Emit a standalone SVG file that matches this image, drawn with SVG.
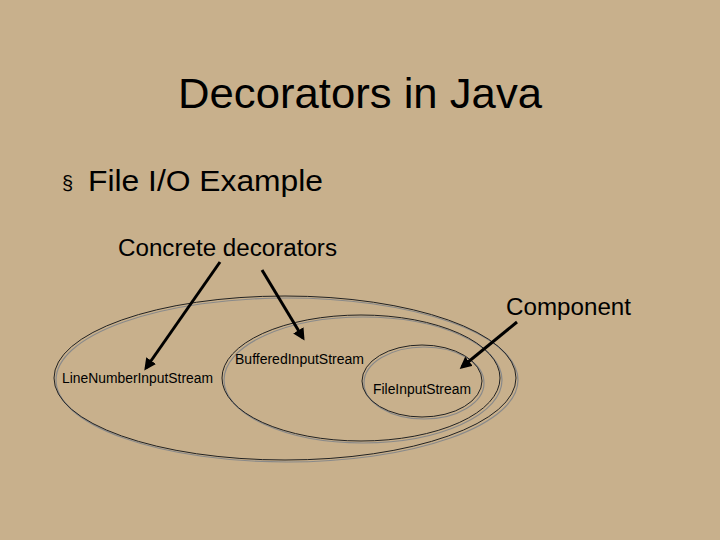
<svg xmlns="http://www.w3.org/2000/svg" width="720" height="540" viewBox="0 0 720 540">
<style>
text{font-family:"Liberation Sans",Arial,sans-serif;fill:#000}
.sh{fill:none;stroke:#8a8a8a;stroke-width:1.2}
.el{fill:none;stroke:#222;stroke-width:1}
.ar{stroke:#000;stroke-width:3;marker-end:url(#ah)}
</style>
<defs><marker id="ah" markerWidth="4" markerHeight="4" refX="3" refY="2" orient="auto"><path d="M0,0L4,2L0,4z" fill="#000"/></marker></defs>
<rect width="720" height="540" fill="#c8b08c"/>
<text x="178" y="108" font-size="42" textLength="364" lengthAdjust="spacingAndGlyphs">Decorators in Java</text>
<text x="62" y="190" font-size="20">§</text>
<text x="88" y="191" font-size="29" textLength="235" lengthAdjust="spacingAndGlyphs">File I/O Example</text>
<text x="118" y="256" font-size="23" textLength="219" lengthAdjust="spacingAndGlyphs">Concrete decorators</text>
<text x="506" y="315" font-size="23" textLength="125" lengthAdjust="spacingAndGlyphs">Component</text>
<g id="outer"><ellipse class="sh" cx="287" cy="380" rx="231" ry="82"/><ellipse class="el" cx="285" cy="378" rx="231" ry="82"/><text x="62" y="383" font-size="14" textLength="151" lengthAdjust="spacingAndGlyphs">LineNumberInputStream</text></g>
<g id="middle"><ellipse class="sh" cx="363" cy="380" rx="139" ry="63"/><ellipse class="el" cx="361" cy="378" rx="139" ry="63"/><text x="235" y="364" font-size="14" textLength="129" lengthAdjust="spacingAndGlyphs">BufferedInputStream</text></g>
<g id="inner"><ellipse class="sh" cx="424" cy="383" rx="60" ry="36"/><ellipse class="el" cx="422" cy="381" rx="60" ry="36"/><text x="373" y="394" font-size="14" textLength="98" lengthAdjust="spacingAndGlyphs">FileInputStream</text></g>
<g id="connectors">
<line class="ar" x1="220" y1="262" x2="146" y2="368"/>
<line class="ar" x1="262" y1="270" x2="303" y2="338"/>
<line class="ar" x1="517" y1="322" x2="462" y2="367"/>
</g>
</svg>
